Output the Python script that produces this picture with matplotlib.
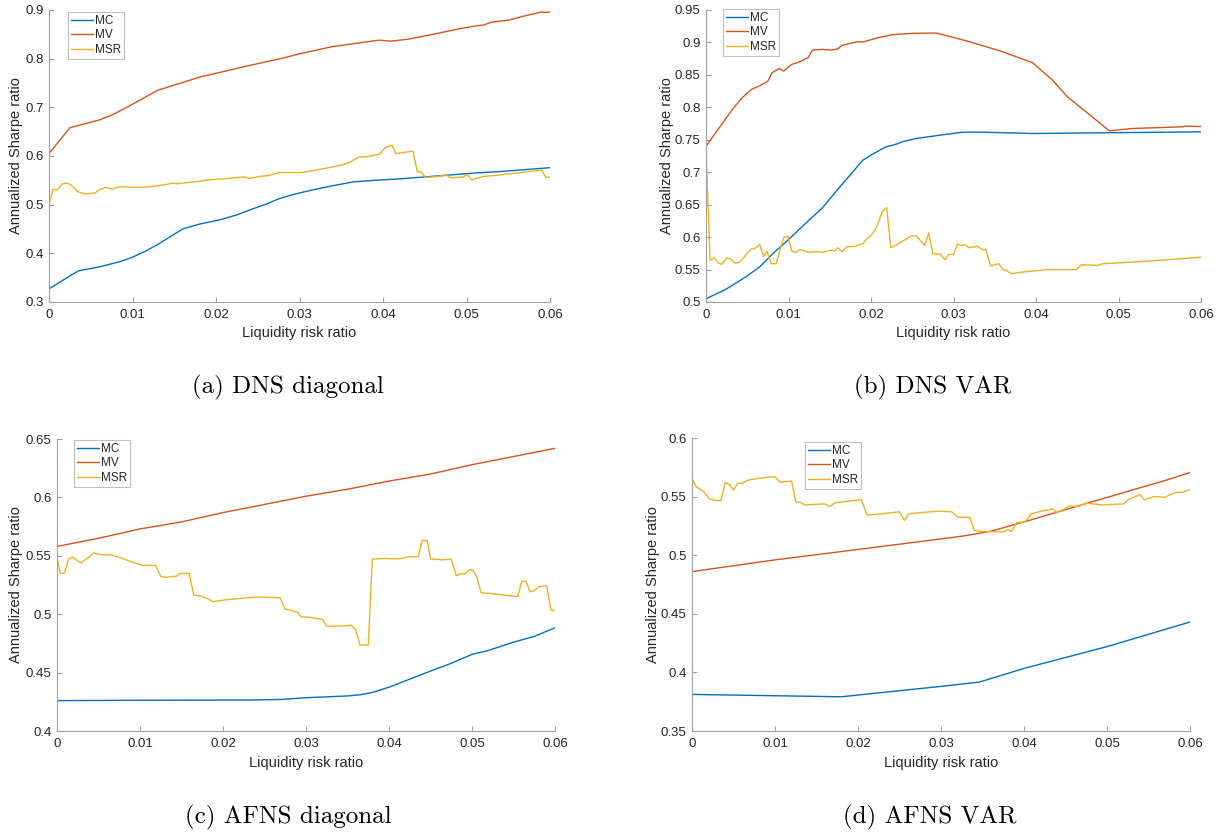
import matplotlib
matplotlib.use("Agg")
import matplotlib.pyplot as plt

# ---------------- data ----------------
# (a) DNS diagonal
a_mc_x = [0, 0.0035, 0.006, 0.0085, 0.010, 0.0115, 0.013, 0.0145, 0.016, 0.018, 0.0205, 0.0225, 0.0245,
          0.026, 0.0275, 0.0295, 0.0315, 0.034, 0.0365, 0.039, 0.042, 0.045, 0.048, 0.051, 0.054, 0.057, 0.06]
a_mc_y = [0.327, 0.364, 0.372, 0.383, 0.392, 0.404, 0.418, 0.434, 0.450, 0.460, 0.469, 0.479, 0.492,
          0.501, 0.512, 0.522, 0.530, 0.539, 0.547, 0.550, 0.553, 0.557, 0.561, 0.565, 0.568, 0.572, 0.576]
a_mv_x = [0, 0.0025, 0.004, 0.006, 0.0075, 0.009, 0.0105, 0.013, 0.016, 0.018, 0.0205, 0.024, 0.028, 0.030,
          0.034, 0.037, 0.0395, 0.041, 0.043, 0.046, 0.049, 0.051, 0.052, 0.053, 0.055, 0.057, 0.059, 0.0595, 0.06]
a_mv_y = [0.605, 0.658, 0.665, 0.674, 0.684, 0.697, 0.711, 0.735, 0.751, 0.762, 0.772, 0.786, 0.801, 0.810,
          0.825, 0.832, 0.838, 0.836, 0.840, 0.850, 0.861, 0.867, 0.869, 0.875, 0.879, 0.888, 0.896, 0.895, 0.896]
a_msr_x = [0, 0.0005, 0.001, 0.0016, 0.0022, 0.0026, 0.0035, 0.0044, 0.0055, 0.006, 0.0068, 0.0075, 0.0085,
           0.010, 0.0116, 0.0132, 0.0148, 0.0155, 0.0164, 0.018, 0.0192, 0.0216, 0.0234, 0.024, 0.0252, 0.0264,
           0.0276, 0.0292, 0.0302, 0.0316, 0.0332, 0.0352, 0.036, 0.037, 0.0382, 0.0396, 0.0402, 0.0408, 0.0411,
           0.0415, 0.0424, 0.0436, 0.0441, 0.0446, 0.0451, 0.0466, 0.0476, 0.0481, 0.0496, 0.0501, 0.0506,
           0.052, 0.054, 0.0564, 0.059, 0.0595, 0.06]
a_msr_y = [0.500, 0.532, 0.530, 0.543, 0.544, 0.541, 0.526, 0.522, 0.524, 0.530, 0.536, 0.532, 0.537,
           0.536, 0.536, 0.539, 0.544, 0.543, 0.545, 0.548, 0.551, 0.554, 0.557, 0.554, 0.558, 0.560,
           0.566, 0.566, 0.566, 0.570, 0.575, 0.582, 0.587, 0.597, 0.599, 0.604, 0.616, 0.621, 0.622,
           0.605, 0.607, 0.610, 0.568, 0.567, 0.556, 0.558, 0.561, 0.555, 0.557, 0.562, 0.551,
           0.558, 0.561, 0.566, 0.571, 0.556, 0.557]

# (b) DNS VAR
b_mc_x = [0, 0.0024, 0.0048, 0.0065, 0.0081, 0.0099, 0.0121, 0.0141, 0.0162, 0.018, 0.019, 0.0202, 0.0218,
          0.023, 0.0238, 0.0255, 0.0283, 0.0311, 0.0335, 0.0396, 0.0477, 0.06]
b_mc_y = [0.505, 0.5195, 0.5385, 0.554, 0.5744, 0.595, 0.6215, 0.645, 0.677, 0.7035, 0.7185, 0.728, 0.739,
          0.743, 0.747, 0.752, 0.757, 0.7617, 0.7617, 0.7597, 0.7607, 0.7622]
b_mv_x = [0, 0.0014, 0.0034, 0.0044, 0.0055, 0.0065, 0.0075, 0.008, 0.0089, 0.0094, 0.0104, 0.0115, 0.0124,
          0.0129, 0.0141, 0.0153, 0.016, 0.0165, 0.0178, 0.0184, 0.019, 0.021, 0.0226, 0.025, 0.0279, 0.0315,
          0.0356, 0.0396, 0.042, 0.0438, 0.0489, 0.0517, 0.0578, 0.058, 0.06]
b_mv_y = [0.740, 0.765, 0.800, 0.815, 0.8276, 0.8332, 0.8404, 0.8533, 0.860, 0.8559, 0.8662, 0.8708, 0.877,
          0.8883, 0.8893, 0.8883, 0.8903, 0.8955, 0.8996, 0.9011, 0.9006, 0.9078, 0.912, 0.914, 0.9145, 0.9027,
          0.8872, 0.8687, 0.842, 0.8163, 0.7638, 0.7674, 0.770, 0.771, 0.7705]
b_msr_x = [0, 0.0005, 0.001, 0.0015, 0.0019, 0.0025, 0.003, 0.0035, 0.004, 0.0044, 0.005, 0.0055, 0.006,
           0.0065, 0.007, 0.0074, 0.0079, 0.0085, 0.0094, 0.0099, 0.0104, 0.0109, 0.0114, 0.0119, 0.0125,
           0.0133, 0.0142, 0.0149, 0.0156, 0.016, 0.0165, 0.0171, 0.018, 0.019, 0.0195, 0.020, 0.0206,
           0.0214, 0.0219, 0.0224, 0.0232, 0.024, 0.0249, 0.0255, 0.0265, 0.027, 0.0275, 0.0284, 0.029,
           0.0294, 0.030, 0.0305, 0.0309, 0.0314, 0.0319, 0.0329, 0.0335, 0.0339, 0.0345, 0.0355, 0.036,
           0.0364, 0.037, 0.038, 0.0396, 0.0414, 0.0432, 0.0449, 0.0455, 0.0475, 0.0481, 0.0517, 0.0558, 0.06]
b_msr_y = [0.736, 0.564, 0.568, 0.560, 0.558, 0.568, 0.566, 0.560, 0.561, 0.566, 0.575, 0.5815, 0.583,
           0.589, 0.570, 0.578, 0.559, 0.559, 0.599, 0.6015, 0.5785, 0.5765, 0.5805, 0.579, 0.5765,
           0.5775, 0.5765, 0.5795, 0.579, 0.5835, 0.5775, 0.585, 0.5857, 0.590, 0.5975, 0.6026, 0.613,
           0.640, 0.6456, 0.5836, 0.5887, 0.595, 0.602, 0.602, 0.5872, 0.6067, 0.5744, 0.5738, 0.565,
           0.5733, 0.5733, 0.5897, 0.5867, 0.588, 0.5836, 0.586, 0.5805, 0.581, 0.556, 0.559, 0.550,
           0.5487, 0.5436, 0.5456, 0.5477, 0.550, 0.550, 0.550, 0.5574, 0.5564, 0.559, 0.5615, 0.565, 0.569]

# (c) AFNS diagonal
c_mc_x = [0, 0.01, 0.02, 0.023, 0.027, 0.03, 0.035, 0.0365, 0.038, 0.04, 0.042, 0.045, 0.0475, 0.05,
          0.052, 0.055, 0.0575, 0.06]
c_mc_y = [0.426, 0.4263, 0.4265, 0.4265, 0.427, 0.4285, 0.430, 0.431, 0.433, 0.4375, 0.443, 0.4513,
          0.458, 0.4656, 0.469, 0.4761, 0.481, 0.4884]
c_mv_x = [0, 0.005, 0.01, 0.015, 0.02, 0.025, 0.03, 0.035, 0.04, 0.045, 0.05, 0.055, 0.06]
c_mv_y = [0.558, 0.565, 0.573, 0.579, 0.587, 0.594, 0.601, 0.607, 0.614, 0.620, 0.628, 0.635, 0.642]
c_msr_x = [0, 0.0004, 0.0009, 0.0014, 0.0019, 0.0024, 0.0029, 0.0034, 0.0039, 0.0044, 0.0054, 0.0064,
           0.0076, 0.009, 0.0103, 0.0119, 0.0125, 0.0131, 0.0144, 0.0149, 0.0159, 0.0165, 0.0175, 0.0181,
           0.0189, 0.0193, 0.0203, 0.0219, 0.0239, 0.0253, 0.0269, 0.0275, 0.0283, 0.029, 0.0294, 0.0304,
           0.032, 0.0325, 0.0334, 0.0346, 0.0354, 0.036, 0.0365, 0.0375, 0.038, 0.0394, 0.0406, 0.0416,
           0.0422, 0.0435, 0.044, 0.0446, 0.045, 0.0464, 0.0475, 0.0481, 0.0486, 0.0491, 0.0497, 0.0501,
           0.0506, 0.0511, 0.0523, 0.0539, 0.0555, 0.056, 0.0565, 0.057, 0.0575, 0.0581, 0.059, 0.0595, 0.06]
c_msr_y = [0.548, 0.5351, 0.5351, 0.5474, 0.5489, 0.546, 0.544, 0.5466, 0.5489, 0.5523, 0.5509, 0.5509,
           0.5486, 0.5446, 0.542, 0.5417, 0.5323, 0.5317, 0.5326, 0.5349, 0.5349, 0.5163, 0.5151, 0.5134,
           0.5106, 0.5114, 0.5123, 0.5134, 0.5146, 0.5146, 0.514, 0.5043, 0.5031, 0.5014, 0.4977, 0.4974,
           0.4954, 0.490, 0.4897, 0.490, 0.4906, 0.4866, 0.4737, 0.4737, 0.5471, 0.5477, 0.5474, 0.5477,
           0.5491, 0.5491, 0.5631, 0.5631, 0.5474, 0.5466, 0.5471, 0.5329, 0.5346, 0.5343, 0.538, 0.538,
           0.5314, 0.5183, 0.5177, 0.5163, 0.5151, 0.528, 0.5283, 0.5191, 0.5203, 0.5237, 0.5243, 0.5037, 0.5031]

# (d) AFNS VAR
d_mc_x = [0, 0.018, 0.0299, 0.0346, 0.0401, 0.05, 0.06]
d_mc_y = [0.3812, 0.3792, 0.388, 0.3917, 0.4036, 0.422, 0.443]
d_mv_x = [0, 0.01, 0.0201, 0.0299, 0.0327, 0.036, 0.0401, 0.05, 0.0574, 0.06]
d_mv_y = [0.486, 0.496, 0.505, 0.5138, 0.5164, 0.5204, 0.5286, 0.5493, 0.5646, 0.5705]
d_msr_x = [0, 0.0005, 0.0015, 0.0021, 0.0029, 0.0035, 0.004, 0.0045, 0.005, 0.0055, 0.006, 0.0068, 0.008,
           0.0096, 0.010, 0.0106, 0.012, 0.0125, 0.013, 0.0136, 0.016, 0.0166, 0.0172, 0.0186, 0.0204,
           0.0211, 0.0228, 0.025, 0.0256, 0.0261, 0.0277, 0.0297, 0.0313, 0.032, 0.0335, 0.034, 0.0349,
           0.0375, 0.0381, 0.0385, 0.0391, 0.0401, 0.0409, 0.0421, 0.0435, 0.0439, 0.0449, 0.0455, 0.0465,
           0.0475, 0.0494, 0.052, 0.0526, 0.054, 0.0545, 0.0556, 0.057, 0.0578, 0.0584, 0.059, 0.06]
d_msr_y = [0.5655, 0.5585, 0.5537, 0.548, 0.5466, 0.5466, 0.5621, 0.5602, 0.5556, 0.5613, 0.5613, 0.5641,
           0.5655, 0.5669, 0.5669, 0.5624, 0.5633, 0.5455, 0.5452, 0.5429, 0.5438, 0.5415, 0.5446, 0.5458,
           0.5475, 0.5342, 0.5353, 0.537, 0.5297, 0.5353, 0.5364, 0.5376, 0.537, 0.5325, 0.5322, 0.5212,
           0.5203, 0.5198, 0.5218, 0.5203, 0.5277, 0.5282, 0.5353, 0.5376, 0.5395, 0.5362, 0.5395, 0.5421,
           0.5415, 0.5444, 0.5429, 0.5438, 0.5475, 0.5517, 0.5472, 0.550, 0.5494, 0.5523, 0.5537, 0.5537, 0.5559]

x_ticks = [0, 0.01, 0.02, 0.03, 0.04, 0.05, 0.06]
x_tick_labels = ["0", "0.01", "0.02", "0.03", "0.04", "0.05", "0.06"]
a_y_ticks = [0.3, 0.4, 0.5, 0.6, 0.7, 0.8, 0.9]
a_y_labels = ["0.3", "0.4", "0.5", "0.6", "0.7", "0.8", "0.9"]
b_y_ticks = [0.5, 0.55, 0.6, 0.65, 0.7, 0.75, 0.8, 0.85, 0.9, 0.95]
b_y_labels = ["0.5", "0.55", "0.6", "0.65", "0.7", "0.75", "0.8", "0.85", "0.9", "0.95"]
c_y_ticks = [0.4, 0.45, 0.5, 0.55, 0.6, 0.65]
c_y_labels = ["0.4", "0.45", "0.5", "0.55", "0.6", "0.65"]
d_y_ticks = [0.35, 0.4, 0.45, 0.5, 0.55, 0.6]
d_y_labels = ["0.35", "0.4", "0.45", "0.5", "0.55", "0.6"]

series_names = ["MC", "MV", "MSR"]
captions = ["(a) DNS diagonal", "(b) DNS VAR", "(c) AFNS diagonal", "(d) AFNS VAR"]

# ---------------- style ----------------
colors = ["#0072BD", "#D95319", "#EDB120"]
W, H = 1225, 832
fig = plt.figure(figsize=(W / 100, H / 100), dpi=100)

def frac(l, r, t, b):
    return [l / W, 1 - b / H, (r - l) / W, (b - t) / H]

panels = [
    dict(rect=frac(49, 550, 10, 302), ylim=(0.3, 0.9), yt=a_y_ticks, yl=a_y_labels,
         data=[(a_mc_x, a_mc_y), (a_mv_x, a_mv_y), (a_msr_x, a_msr_y)],
         leg=(68, 12), cap=(288, 387), ylab_x=16),
    dict(rect=frac(706, 1201, 10, 302), ylim=(0.5, 0.95), yt=b_y_ticks, yl=b_y_labels,
         data=[(b_mc_x, b_mc_y), (b_mv_x, b_mv_y), (b_msr_x, b_msr_y)],
         leg=(723, 9), cap=(933, 387), ylab_x=667),
    dict(rect=frac(57, 555, 439, 731), ylim=(0.4, 0.65), yt=c_y_ticks, yl=c_y_labels,
         data=[(c_mc_x, c_mc_y), (c_mv_x, c_mv_y), (c_msr_x, c_msr_y)],
         leg=(74, 440), cap=(288, 817), ylab_x=16),
    dict(rect=frac(692, 1190, 438, 731), ylim=(0.35, 0.6), yt=d_y_ticks, yl=d_y_labels,
         data=[(d_mc_x, d_mc_y), (d_mv_x, d_mv_y), (d_msr_x, d_msr_y)],
         leg=(805, 442), cap=(930, 817), ylab_x=653),
]

axis_col = "#a0a0a0"
text_col = "#262626"

for p, cap in zip(panels, captions):
    ax = fig.add_axes(p["rect"])
    for (xs, ys), c, name in zip(p["data"], colors, series_names):
        ax.plot(xs, ys, color=c, lw=1.0, label=name)
    ax.set_xlim(0, 0.06)
    ax.set_ylim(*p["ylim"])
    ax.set_xticks(x_ticks)
    ax.set_xticklabels(x_tick_labels)
    ax.set_yticks(p["yt"])
    ax.set_yticklabels(p["yl"])
    for s in ["top", "right"]:
        ax.spines[s].set_visible(False)
    for s in ["left", "bottom"]:
        ax.spines[s].set_color(axis_col)
        ax.spines[s].set_linewidth(0.8)
    ax.tick_params(direction="in", length=3.5, width=0.8, color=axis_col,
                   labelcolor=text_col, labelsize=9.5)
    ax.tick_params(axis="x", pad=5)
    ax.tick_params(axis="y", pad=4)
    for t in ax.get_xticklabels() + ax.get_yticklabels():
        t.set_fontfamily("Liberation Sans")
    ax.set_xlabel("Liquidity risk ratio", fontsize=10.5, color=text_col,
                  fontfamily="Liberation Sans", labelpad=4)
    ax.set_ylabel("Annualized Sharpe ratio", fontsize=10.5, color=text_col,
                  fontfamily="Liberation Sans", va="center")
    ax.yaxis.set_label_coords((p["ylab_x"] - (p["rect"][0] * W)) / (p["rect"][2] * W), 0.5)
    lx, ly = p["leg"]
    leg = ax.legend(loc="upper left", bbox_to_anchor=(lx / W, 1 - ly / H),
                    bbox_transform=fig.transFigure, frameon=True, fancybox=False,
                    prop={"family": "Liberation Sans", "size": 8.5},
                    handlelength=1.9, handletextpad=0.15, labelspacing=0.2,
                    borderpad=0.25, borderaxespad=0.0)
    leg.get_frame().set_edgecolor("#b0b0b0")
    leg.get_frame().set_linewidth(0.8)
    for t in leg.get_texts():
        t.set_color(text_col)
    cx, cy = p["cap"]
    fig.text(cx / W, 1 - cy / H, cap, ha="center", va="center",
             fontsize=18, fontfamily="cmr10", color="black")

fig.savefig("out.png", dpi=100)
